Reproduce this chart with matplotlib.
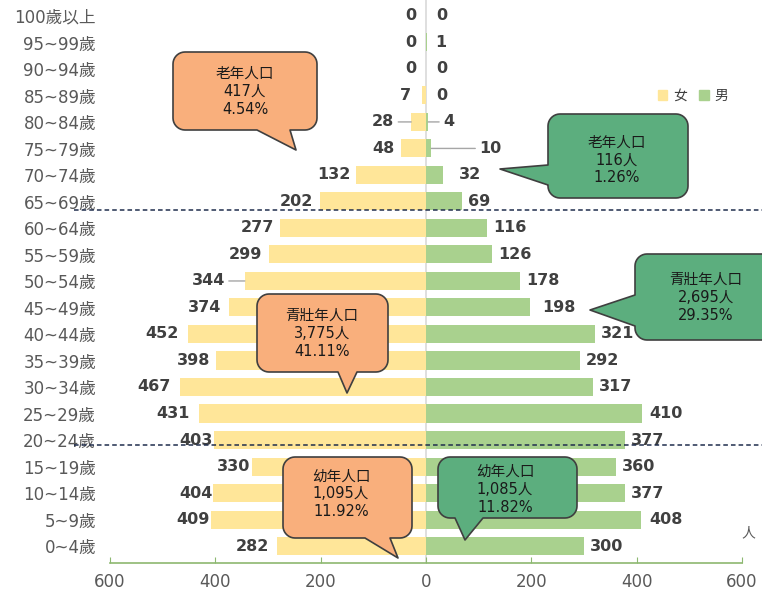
import matplotlib
matplotlib.use("Agg")
import matplotlib.pyplot as plt
import numpy as np
from matplotlib.patches import Polygon, Patch

plt.rcParams['font.family'] = ['DejaVu Sans', 'Noto Sans CJK TC']

# age groups, bottom to top
ages = ["0~4歲", "5~9歲", "10~14歲", "15~19歲", "20~24歲", "25~29歲", "30~34歲",
        "35~39歲", "40~44歲", "45~49歲", "50~54歲", "55~59歲", "60~64歲", "65~69歲",
        "70~74歲", "75~79歲", "80~84歲", "85~89歲", "90~94歲", "95~99歲", "100歲以上"]
female = [282, 409, 404, 330, 403, 431, 467, 398, 452, 374, 344, 299, 277, 202,
          132, 48, 28, 7, 0, 0, 0]
male = [300, 408, 377, 360, 377, 410, 317, 292, 321, 198, 178, 126, 116, 69,
        32, 10, 4, 0, 0, 1, 0]
x_ticks = [-600, -400, -200, 0, 200, 400, 600]

# callout texts
callouts = [
    ("老年人口\n417人\n4.54%", "#F9AF7C"),
    ("老年人口\n116人\n1.26%", "#5CAE7E"),
    ("青壯年人口\n2,695人\n29.35%", "#5CAE7E"),
    ("青壯年人口\n3,775人\n41.11%", "#F9AF7C"),
    ("幼年人口\n1,095人\n11.92%", "#F9AF7C"),
    ("幼年人口\n1,085人\n11.82%", "#5CAE7E"),
]

W, H = 762, 592
fig = plt.figure(figsize=(W / 100, H / 100), dpi=100)
ax = fig.add_axes([110 / W, 29 / H, 632 / W, 563 / H])

y = np.arange(len(ages))
ax.barh(y, [-v for v in female], height=0.68, color="#FFE699", label="女", zorder=2)
ax.barh(y, male, height=0.68, color="#A9D18E", label="男", zorder=2)
ax.axvline(0, color="#D9D9D9", lw=1.2, zorder=1)

# label padding in pixels (a few labels sit further out with a leader line)
f_pad = {"85~89歲": 11, "80~84歲": 17, "50~54歲": 20, "45~49歲": 8, "40~44歲": 9,
         "30~34歲": 9, "25~29歲": 9, "20~24歲": 1, "15~19歲": 2, "10~14歲": 1,
         "5~9歲": 1, "0~4歲": 8}
m_pad = {"95~99歲": 9, "80~84歲": 15, "75~79歲": 48, "70~74歲": 16, "45~49歲": 12,
         "25~29歲": 7, "5~9歲": 8}
leader_f = ["80~84歲", "50~54歲"]
leader_m = ["80~84歲", "75~79歲"]
px = 0.72  # points per pixel

for i, a in enumerate(ages):
    pf = f_pad.get(a, 10 if female[i] == 0 else 6)
    pm = m_pad.get(a, 10 if male[i] == 0 else 6)
    ax.annotate(str(female[i]), (-female[i], i), xytext=(-pf * px, 0),
                textcoords="offset points", ha="right", va="center",
                fontsize=11.5, fontweight="bold", color="#404040", zorder=4)
    ax.annotate(str(male[i]), (male[i], i), xytext=(pm * px, 0),
                textcoords="offset points", ha="left", va="center",
                fontsize=11.5, fontweight="bold", color="#404040", zorder=4)
    if a in leader_f:
        ax.annotate("", (-female[i], i), xytext=(-(pf - 4) * px, 0),
                    textcoords="offset points",
                    arrowprops=dict(arrowstyle="-", color="#A6A6A6", lw=1,
                                    shrinkA=0, shrinkB=0))
    if a in leader_m:
        ax.annotate("", (male[i], i), xytext=((pm - 4) * px, 0),
                    textcoords="offset points",
                    arrowprops=dict(arrowstyle="-", color="#A6A6A6", lw=1,
                                    shrinkA=0, shrinkB=0))

# dashed separators between age groups
for yy in [12.68, 3.8]:
    ax.plot([-668, 640], [yy, yy], ls=(0, (3, 2)), color="#1F2D4D", lw=1.1,
            clip_on=False, zorder=5)

ax.set_xlim(-600, 600)
ax.set_ylim(-0.64, 20.6)
ax.set_xticks(x_ticks)
ax.set_xticklabels([str(abs(t)) for t in x_ticks], fontsize=12, color="#595959")
ax.set_yticks(y)
ax.set_yticklabels(ages, fontsize=12, color="#595959")
ax.tick_params(axis="y", length=0, pad=10)
ax.tick_params(axis="x", direction="in", length=4, color="#8DB870", pad=7)
for s in ["left", "right", "top"]:
    ax.spines[s].set_visible(False)
ax.spines["bottom"].set_color("#8DB870")
ax.spines["bottom"].set_linewidth(1.2)

ax.legend(handles=[Patch(color="#FFE699", label="女"), Patch(color="#A9D18E", label="男")],
          ncol=2, frameon=False, loc="center", bbox_to_anchor=(693 / W, 1 - 96 / H),
          bbox_transform=fig.transFigure, fontsize=10, handlelength=0.7,
          handleheight=0.7, handletextpad=0.4, columnspacing=0.9,
          labelcolor="#404040")
fig.text(748 / W, 1 - 533 / H, "人", fontsize=10, color="#595959", ha="center", va="center")

# overlay in pixel coordinates for the speech bubbles
ov = fig.add_axes([0, 0, 1, 1], zorder=10)
ov.set_xlim(0, W)
ov.set_ylim(H, 0)
ov.axis("off")


def bubble(box, side, a, b, tip, fc, r=12):
    x0, y0, x1, y1 = box

    def arc(cx, cy, t0, t1):
        t = np.radians(np.linspace(t0, t1, 10))
        return list(zip(cx + r * np.cos(t), cy + r * np.sin(t)))

    pts = arc(x0 + r, y0 + r, 180, 270) + arc(x1 - r, y0 + r, 270, 360)
    pts += arc(x1 - r, y1 - r, 0, 90)
    if side == "bottom":
        pts += [(b, y1), tip, (a, y1)]
    pts += arc(x0 + r, y1 - r, 90, 180)
    if side == "left":
        pts += [(x0, b), tip, (x0, a)]
    ov.add_patch(Polygon(pts, closed=True, fc=fc, ec="#3F3F3F", lw=1.2,
                         joinstyle="round", clip_on=False))


shapes = [
    ((173, 52, 317, 130), "bottom", 257, 290, (296, 150)),
    ((548, 114, 688, 198), "left", 165, 185, (500, 169)),
    ((635, 254, 777, 340), "left", 295, 326, (590, 310)),
    ((257, 294, 388, 372), "bottom", 338, 357, (347, 393)),
    ((283, 457, 412, 538), "bottom", 365, 390, (398, 558)),
    ((438, 457, 577, 518), "bottom", 455, 483, (465, 540)),
]
centers = [(245, 91), (617, 160), (706, 297), (322, 333), (341, 494), (505, 489)]

for (txt, fc), (box, side, a, b, tip), (cx, cy) in zip(callouts, shapes, centers):
    bubble(box, side, a, b, tip, fc)
    ov.text(cx, cy, txt, ha="center", va="center", fontsize=10.5, linespacing=1.25,
            color="#1A1A1A", family=["DejaVu Sans", "Noto Sans CJK TC"])

fig.savefig("out.png", dpi=100)
